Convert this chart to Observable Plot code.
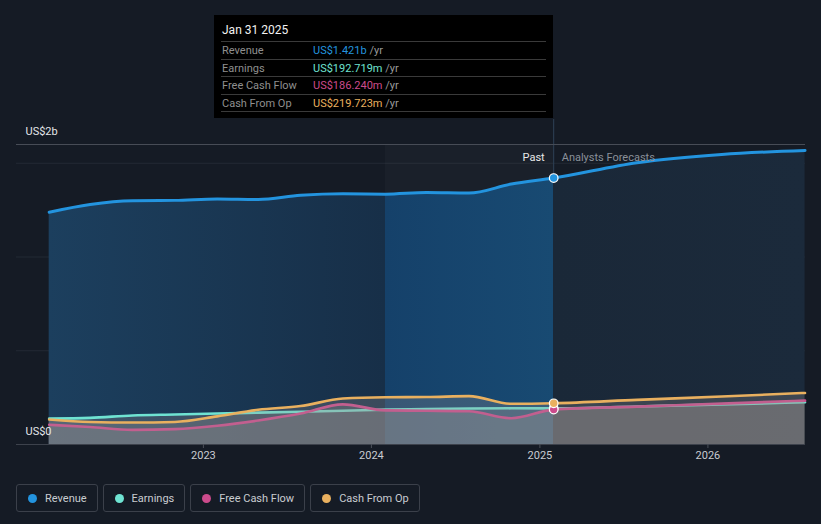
<!DOCTYPE html>
<html>
<head>
<meta charset="utf-8">
<script src="https://cdn.jsdelivr.net/npm/d3@7"></script>
<script src="https://cdn.jsdelivr.net/npm/@observablehq/plot@0.6"></script>
<style>
  html, body { margin:0; padding:0; }
  body { width:821px; height:524px; background:#151b25; font-family:Roboto, "Noto Sans", sans-serif; position:relative; overflow:hidden; }
  #chart { position:absolute; left:0; top:0; }
  #tip { position:absolute; left:214px; top:15px; width:339px; height:103px; background:#000; }
  #tip .title { position:absolute; left:8px; top:8px; font-size:12px; color:#f2f2f2; }
  #tip .row { position:absolute; left:7px; width:325px; height:17.5px; border-top:1px solid #3a3a3a; font-size:11px; line-height:17px; }
  #tip .row.last { height:0; }
  #tip .lab { position:absolute; left:1px; color:#8f8f8f; }
  #tip .val { position:absolute; left:92px; }
  #tip .unit { color:#9a9a9a; }
  #legend { position:absolute; left:16px; top:484px; display:flex; gap:5px; }
  #legend .item { box-sizing:border-box; height:28px; border:1px solid #3b404a; border-radius:3px; display:flex; align-items:center; padding:0 10px 0 11px; font-size:11px; color:#c9ccd1; }
  #legend .dot { width:9px; height:9px; border-radius:50%; margin-right:8px; }
</style>
</head>
<body>
<div id="chart"></div>
<div id="tip"></div>
<div id="legend"></div>
<script>
// ---------- data ----------
const seriesNames  = ["Revenue", "Earnings", "Free Cash Flow", "Cash From Op"];
const seriesColors = ["#2394df", "#6fe3d2", "#cc4b8c", "#e9b05f"];

const pastDates = ["2022-01-31","2022-04-30","2022-07-31","2022-10-31","2023-01-31","2023-04-30","2023-07-31","2023-10-31","2024-01-31","2024-04-30","2024-07-31","2024-10-31","2025-01-31"];
const revenuePast  = [1239, 1280, 1300, 1302, 1310, 1307, 1329, 1337, 1335, 1344, 1341, 1389, 1421];
const earningsPast = [138, 142, 155, 160, 165, 170, 175, 180, 186, 189, 192, 193, 192.719];
const fcfPast      = [105, 93, 78, 82, 100, 128, 165, 214, 182, 180, 177, 140, 186.240];
const cashOpPast   = [133, 120, 117, 120, 150, 185, 205, 245, 252, 253, 258, 217, 219.723];

const forecastDates = ["2025-07-31","2026-01-31","2026-07-31"];
const revenueFc  = [1503, 1547, 1568];
const earningsFc = [203, 214, 225];
const fcfFc      = [202, 218, 234];
const cashOpFc   = [238, 256, 275];

const xTicks = ["2023-01-01","2024-01-01","2025-01-01","2026-01-01"];
const yTickValues = [0, 1600];
const yTickLabels = ["US$0", "US$2b"];
const gridValues = [500, 1000, 1500];
const bandStart = "2024-01-31";
const nowDate = "2025-01-31";

// ---------- build rows ----------
const allDates = pastDates.concat(forecastDates).map(d => new Date(d));
const seriesValues = [
  revenuePast.concat(revenueFc),
  earningsPast.concat(earningsFc),
  fcfPast.concat(fcfFc),
  cashOpPast.concat(cashOpFc)
];
const rows = allDates.map((date, i) => ({
  date,
  revenue: seriesValues[0][i],
  earnings: seriesValues[1][i],
  fcf: seriesValues[2][i],
  cashOp: seriesValues[3][i]
}));
const keys = ["revenue", "earnings", "fcf", "cashOp"];
const nowD = new Date(nowDate);
const nowIdx = pastDates.length - 1;

const smallMarks = [];
for (let s = 1; s < 4; s++) {
  smallMarks.push(Plot.areaY(rows, {x: "date", y: keys[s], fill: "#a29a98", fillOpacity: 0.25, curve: "monotone-x"}));
  smallMarks.push(Plot.lineY(rows, {x: "date", y: keys[s], stroke: seriesColors[s], strokeWidth: 2.6, curve: "monotone-x"}));
}
const dotMarks = [1, 2, 3, 0].map(s =>
  Plot.dot([rows[nowIdx]], {x: "date", y: keys[s], r: 4.3, fill: seriesColors[s], stroke: "#ffffff", strokeWidth: 1.2})
);

const chart = Plot.plot({
  width: 821,
  height: 470,
  marginLeft: 16,
  marginRight: 16,
  marginTop: 144,
  marginBottom: 26,
  style: {background: "transparent", color: "#c9ccd1", fontFamily: "Roboto, sans-serif", fontSize: "11px", overflow: "visible"},
  x: {type: "utc", domain: [new Date("2021-11-21"), new Date("2026-08-01")]},
  y: {domain: [0, 1600], axis: null},
  marks: [
    Plot.ruleY(gridValues, {stroke: "#232a35", strokeWidth: 1}),
    Plot.rect([0], {x1: () => new Date(bandStart), x2: () => nowD, y1: () => 0, y2: () => 1600, fill: "#ffffff", fillOpacity: 0.025}),
    Plot.ruleX([nowD], {y1: 0, y2: 1733, stroke: "#2e4257", strokeWidth: 1}),
    Plot.areaY(rows, {x: "date", y: "revenue", fill: "url(#revGrad)", curve: "monotone-x"}),
    Plot.lineY(rows, {x: "date", y: "revenue", stroke: seriesColors[0], strokeWidth: 3, curve: "monotone-x"}),
    ...smallMarks,
    Plot.ruleY([1600], {stroke: "#474c56", strokeWidth: 1}),
    Plot.ruleY([0], {stroke: "#3d424c", strokeWidth: 1}),
    ...dotMarks,
    Plot.text(yTickValues.map((v, i) => ({v, label: yTickLabels[i]})), {frameAnchor: "left", y: "v", text: "label", textAnchor: "start", dx: 9, dy: -13, fill: "#e4e6e9", fontSize: 11}),
    Plot.text([{date: nowD, t: "Past"}], {x: "date", frameAnchor: "top", text: "t", textAnchor: "end", dx: -9, dy: 9, fill: "#e8e8e8", fontSize: 11}),
    Plot.text([{date: nowD, t: "Analysts Forecasts"}], {x: "date", frameAnchor: "top", text: "t", textAnchor: "start", dx: 8, dy: 9, fill: "#8a9099", fontSize: 11}),
    Plot.axisX(xTicks.map(d => new Date(d)), {tickFormat: d3.utcFormat("%Y"), tickSize: 4, tickPadding: 3, stroke: "#4a4f58", fill: "#c9ccd1", label: null, fontSize: 11})
  ]
});

// gradient for the revenue area: past (lighter, brighter band) and forecast (dark)
const xs = chart.scale("x");
const x0 = xs.apply(allDates[0]);
const x1 = xs.apply(allDates[allDates.length - 1]);
const off = d => Math.max(0, Math.min(1, (xs.apply(new Date(d)) - x0) / (x1 - x0)));
const stops = [
  [0, "#1c3f5e"],
  [off(bandStart), "#172f48"],
  [off(bandStart), "#15416a"],
  [off(nowDate), "#184a72"],
  [off(nowDate), "#1a2838"],
  [1, "#1b2a3b"]
];
const defs = d3.select(chart).insert("defs", ":first-child");
const grad = defs.append("linearGradient").attr("id", "revGrad")
  .attr("gradientUnits", "userSpaceOnUse")
  .attr("x1", x0).attr("x2", x1).attr("y1", 0).attr("y2", 0);
stops.forEach(([o, c]) => grad.append("stop").attr("offset", o).attr("stop-color", c));

document.getElementById("chart").appendChild(chart);

// ---------- tooltip ----------
const fmtVal = v => v >= 1000 ? "US$" + (v / 1000).toFixed(3) + "b" : "US$" + v.toFixed(3) + "m";
const tip = document.getElementById("tip");
const title = document.createElement("div");
title.className = "title";
title.textContent = d3.utcFormat("%b %d %Y")(nowD);
tip.appendChild(title);
const rowTops = [26, 43.5, 61, 78.5, 96];
seriesNames.forEach((name, s) => {
  const r = document.createElement("div");
  r.className = "row";
  r.style.top = rowTops[s] + "px";
  const v = seriesValues[s][nowIdx];
  r.innerHTML = `<span class="lab">${name}</span><span class="val"><span style="color:${seriesColors[s]}">${fmtVal(v)}</span> <span class="unit">/yr</span></span>`;
  tip.appendChild(r);
});
const lastLine = document.createElement("div");
lastLine.className = "row last";
lastLine.style.top = rowTops[4] + "px";
tip.appendChild(lastLine);

// ---------- legend ----------
const legend = document.getElementById("legend");
seriesNames.forEach((name, s) => {
  const it = document.createElement("div");
  it.className = "item";
  it.innerHTML = `<span class="dot" style="background:${seriesColors[s]}"></span><span>${name}</span>`;
  legend.appendChild(it);
});
</script>
</body>
</html>
